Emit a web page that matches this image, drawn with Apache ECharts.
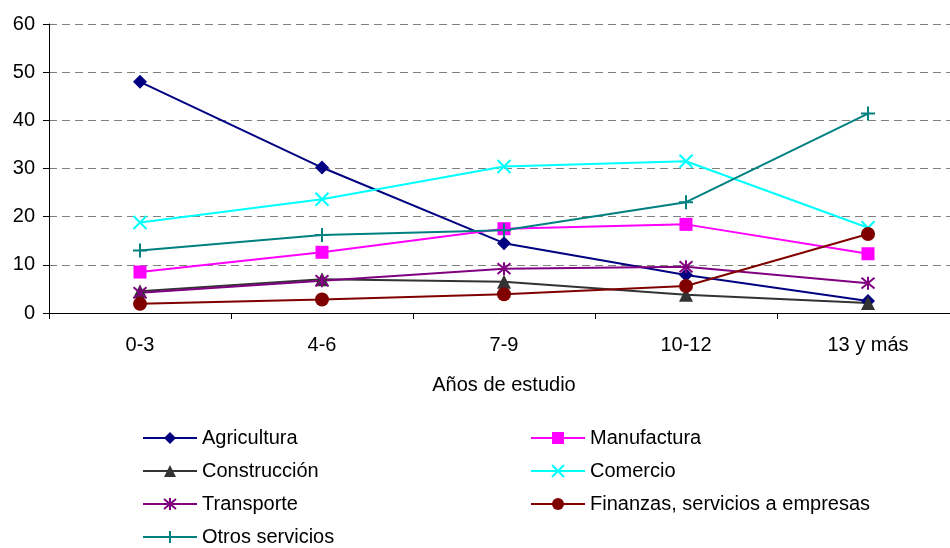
<!DOCTYPE html>
<html>
<head>
<meta charset="utf-8">
<script src="https://cdn.jsdelivr.net/npm/echarts@6/dist/echarts.min.js"></script>
<style>
  html, body { margin: 0; padding: 0; background: #fff; }
  #main { width: 950px; height: 548px; }
</style>
</head>
<body>
<div id="main"></div>
<script>
var categories = ['0-3', '4-6', '7-9', '10-12', '13 y más'];
var agricultura = [48.0, 30.2, 14.5, 7.9, 2.5];
var manufactura = [8.5, 12.6, 17.5, 18.4, 12.3];
var construccion = [4.5, 7.0, 6.5, 3.8, 2.1];
var comercio = [18.8, 23.6, 30.4, 31.5, 17.7];
var transporte = [4.2, 6.7, 9.2, 9.6, 6.2];
var finanzas = [1.9, 2.8, 3.9, 5.6, 16.4];
var otros = [13.0, 16.2, 17.2, 23.0, 41.4];

var yTicks = { min: 0, max: 60, interval: 10 };

var FONT = 'Liberation Sans';
var myChart = echarts.init(document.getElementById('main'));

function line(name, data, color, symbol, size, stroke) {
    return {
        name: name,
        type: 'line',
        data: data,
        symbol: symbol,
        symbolSize: size,
        showAllSymbol: true,
        lineStyle: { color: color, width: 2 },
        itemStyle: { color: color, borderColor: color, borderWidth: stroke ? 2 : 0 },
        emphasis: { disabled: true },
        z: 3
    };
}

var X_PATH = 'path://M0,0L10,10M10,0L0,10';
var STAR_PATH = 'path://M0,0L10,10M10,0L0,10M5,-1L5,11';
var PLUS_PATH = 'path://M5,0L5,10M0,5L10,5';

var legendText = { fontFamily: FONT, fontSize: 20, color: '#000' };

option = {
    animation: false,
    backgroundColor: '#fff',
    grid: { left: 49, top: 24, right: -9, bottom: 235, containLabel: false, outerBoundsMode: 'none' },
    xAxis: {
        type: 'category',
        data: categories,
        boundaryGap: true,
        name: 'Años de estudio',
        nameLocation: 'middle',
        nameGap: 62,
        nameTextStyle: { fontFamily: FONT, fontSize: 20, color: '#000' },
        axisLine: { lineStyle: { color: '#000', width: 1 } },
        axisTick: { show: true, length: 6, lineStyle: { color: '#000' } },
        axisLabel: { fontFamily: FONT, fontSize: 20, color: '#000', margin: 22 },
        splitLine: { show: false }
    },
    yAxis: {
        type: 'value',
        min: yTicks.min,
        max: yTicks.max,
        interval: yTicks.interval,
        axisLine: { show: true, lineStyle: { color: '#000', width: 1 } },
        axisTick: { show: true, length: 6, lineStyle: { color: '#000' } },
        axisLabel: { fontFamily: FONT, fontSize: 20, color: '#000', margin: 14 },
        splitLine: { show: true, lineStyle: { color: '#808080', type: [8, 5], width: 1 } }
    },
    legend: [{
        orient: 'vertical',
        left: 142,
        top: 428,
        padding: 0,
        itemWidth: 54,
        itemHeight: 15,
        itemGap: 13,
        textStyle: legendText,
        data: ['Agricultura', 'Construcción', 'Transporte', 'Otros servicios']
    }, {
        orient: 'vertical',
        left: 530,
        top: 428,
        padding: 0,
        itemWidth: 54,
        itemHeight: 15,
        itemGap: 13,
        textStyle: legendText,
        data: ['Manufactura', 'Comercio', 'Finanzas, servicios a empresas']
    }],
    series: [
        line('Agricultura', agricultura, '#000080', 'diamond', 14, false),
        line('Manufactura', manufactura, '#FF00FF', 'rect', 13, false),
        line('Construcción', construccion, '#333333', 'triangle', 14, false),
        line('Comercio', comercio, '#00FFFF', X_PATH, 13, true),
        line('Transporte', transporte, '#800080', STAR_PATH, 13, true),
        line('Finanzas, servicios a empresas', finanzas, '#800000', 'circle', 14, false),
        line('Otros servicios', otros, '#008080', PLUS_PATH, 14, true)
    ]
};

if (option && typeof option === "object") {
    myChart.setOption(option, true);
}
</script>
</body>
</html>
